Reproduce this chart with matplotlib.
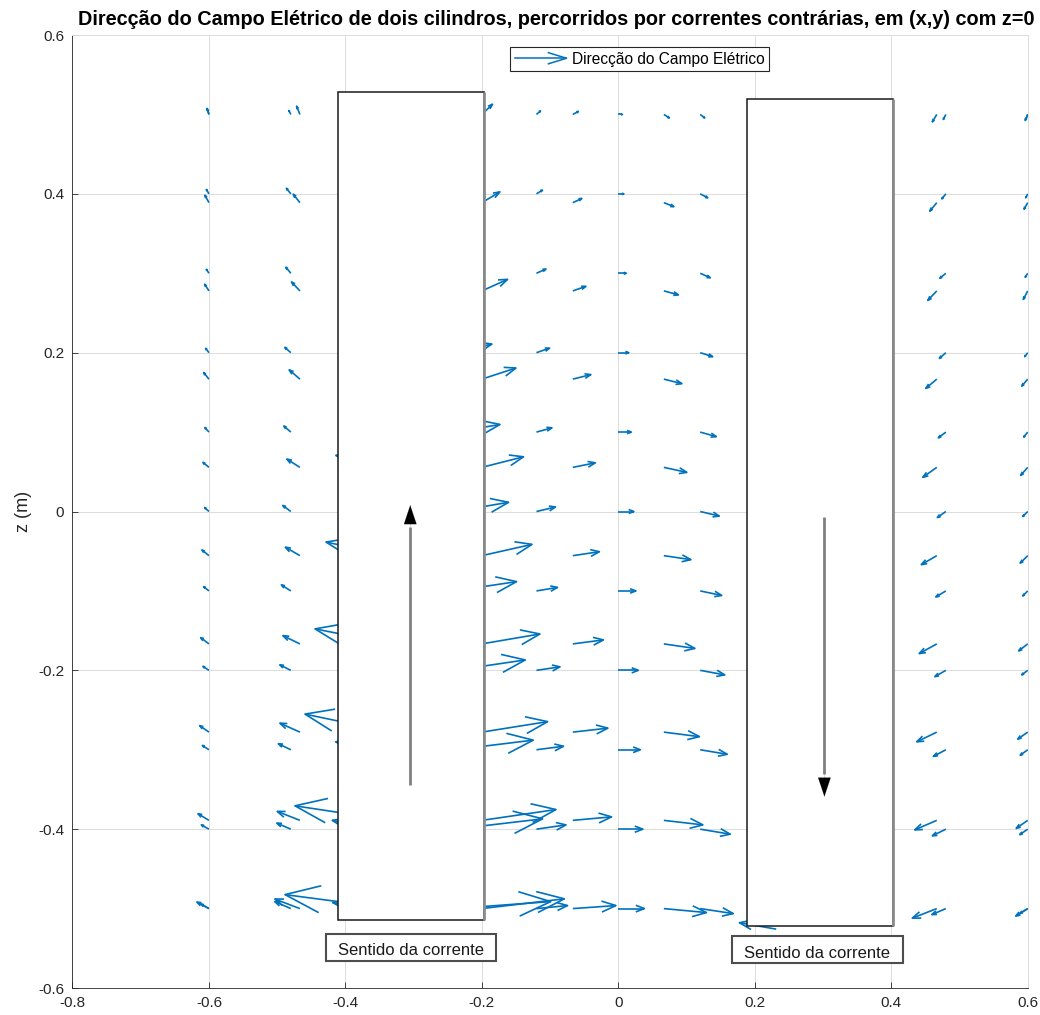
import numpy as np
import matplotlib
matplotlib.use("Agg")
import matplotlib.pyplot as plt
from matplotlib.collections import LineCollection
from matplotlib.patches import Rectangle
from matplotlib.legend_handler import HandlerBase
from matplotlib.lines import Line2D

nan = np.nan

# ---- grid 1 (11 x 11, only visible columns kept) ----
X1 = [-0.6, -0.48, -0.36, -0.24, -0.12, 0.0, 0.12, 0.48, 0.6]
Z1 = [0.5, 0.4, 0.3, 0.2, 0.1, 0.0, -0.1, -0.2, -0.3, -0.4, -0.5]
U1 = [
    [-0.0023, -0.0029, nan, nan, 0.0059, 0.0059, 0.0066, -0.0037, -0.0029],
    [-0.0038, -0.0065, nan, nan, 0.0088, 0.0081, 0.0110, -0.0059, -0.0029],
    [-0.0038, -0.0073, nan, nan, 0.0139, 0.0117, 0.0147, -0.0088, -0.0037],
    [-0.0048, -0.0088, nan, 0.0547, 0.0191, 0.0154, 0.0183, -0.0095, -0.0044],
    [-0.0059, -0.0103, nan, 0.0665, 0.0227, 0.0191, 0.0235, -0.0110, -0.0059],
    [-0.0063, -0.0117, nan, 0.0791, 0.0279, 0.0227, 0.0279, -0.0125, -0.0073],
    [-0.0078, -0.0139, nan, 0.0908, 0.0308, 0.0257, 0.0315, -0.0147, -0.0073],
    [-0.0088, -0.0161, nan, 0.1036, 0.0345, 0.0293, 0.0360, -0.0161, -0.0088],
    [-0.0097, -0.0183, -0.0543, 0.1153, 0.0396, 0.0323, 0.0396, -0.0183, -0.0110],
    [-0.0112, -0.0205, -0.0593, 0.1290, 0.0433, 0.0359, 0.0440, -0.0198, -0.0117],
    [-0.0117, -0.0235, -0.0587, 0.1409, 0.0455, 0.0382, 0.0484, -0.0205, -0.0117],
]
W1 = [
    [0.0063, 0.0050, nan, nan, 0.0044, 0.0, -0.0044, -0.0063, -0.0063],
    [0.0055, 0.0070, nan, nan, 0.0047, 0.0, -0.0050, -0.0063, -0.0050],
    [0.0050, 0.0076, nan, nan, 0.0053, 0.0, -0.0057, -0.0063, -0.0050],
    [0.0055, 0.0067, nan, 0.0108, 0.0057, 0.0, -0.0050, -0.0072, -0.0050],
    [0.0058, 0.0076, nan, 0.0096, 0.0054, 0.0, -0.0057, -0.0072, -0.0063],
    [0.0050, 0.0076, nan, 0.0116, 0.0057, 0.0, -0.0057, -0.0076, -0.0063],
    [0.0054, 0.0076, nan, 0.0117, 0.0044, 0.0, -0.0057, -0.0076, -0.0063],
    [0.0050, 0.0069, nan, 0.0131, 0.0044, 0.0, -0.0057, -0.0079, -0.0057],
    [0.0054, 0.0076, 0.0101, 0.0121, 0.0044, 0.0, -0.0057, -0.0084, -0.0069],
    [0.0054, 0.0076, 0.0111, 0.0130, 0.0054, 0.0, -0.0063, -0.0084, -0.0069],
    [0.0057, 0.0088, 0.0076, 0.0088, 0.0038, 0.0, -0.0063, -0.0076, -0.0063],
]

# ---- grid 2 (10 x 10, only visible columns kept) ----
X2 = [-0.6, -0.4667, -0.3333, -0.2, -0.0667, 0.0667, 0.4667, 0.6]
Z2 = [0.5, 0.3889, 0.2778, 0.1667, 0.0556, -0.0556, -0.1667, -0.2778, -0.3889, -0.5]
U2 = [
    [-0.0029, -0.0048, nan, 0.0156, 0.0081, 0.0081, -0.0065, -0.0037],
    [-0.0059, -0.0098, nan, 0.0264, 0.0132, 0.0147, -0.0103, -0.0054],
    [-0.0063, -0.0123, nan, 0.0376, 0.0191, 0.0213, -0.0132, -0.0065],
    [-0.0078, -0.0157, nan, 0.0499, 0.0264, 0.0264, -0.0161, -0.0088],
    [-0.0088, -0.0191, -0.0807, 0.0610, 0.0330, 0.0337, -0.0205, -0.0103],
    [-0.0103, -0.0213, -0.0951, 0.0734, 0.0389, 0.0396, -0.0227, -0.0110],
    [-0.0122, -0.0249, -0.1112, 0.0851, 0.0448, 0.0455, -0.0257, -0.0132],
    [-0.0136, -0.0293, -0.1259, 0.0963, 0.0514, 0.0521, -0.0293, -0.0147],
    [-0.0161, -0.0332, -0.1406, 0.1086, 0.0568, 0.0572, -0.0323, -0.0169],
    [-0.0176, -0.0367, -0.1552, 0.1208, 0.0631, 0.0624, -0.0359, -0.0176],
]
W2 = [
    [0.0076, 0.0104, nan, 0.0129, 0.0038, -0.0044, -0.0094, -0.0076],
    [0.0094, 0.0107, nan, 0.0136, 0.0053, -0.0050, -0.0107, -0.0082],
    [0.0084, 0.0113, nan, 0.0145, 0.0057, -0.0050, -0.0120, -0.0107],
    [0.0083, 0.0117, nan, 0.0140, 0.0057, -0.0057, -0.0117, -0.0088],
    [0.0063, 0.0104, 0.0151, 0.0133, 0.0057, -0.0063, -0.0126, -0.0101],
    [0.0072, 0.0107, 0.0171, 0.0142, 0.0050, -0.0050, -0.0113, -0.0094],
    [0.0079, 0.0104, 0.0189, 0.0125, 0.0050, -0.0057, -0.0122, -0.0088],
    [0.0082, 0.0113, 0.0227, 0.0132, 0.0050, -0.0057, -0.0122, -0.0088],
    [0.0084, 0.0113, 0.0183, 0.0136, 0.0044, -0.0057, -0.0120, -0.0101],
    [0.0082, 0.0120, 0.0176, 0.0123, 0.0038, -0.0050, -0.0120, -0.0094],
]

# single arrow peeking out under the right cylinder
X3 = [0.2314]
Z3 = [-0.5259]
U3 = [[-0.0539]]
W3 = [[0.0081]]

# cylinders (x range, z range) and current direction arrows
cyl_x = [(-0.411, -0.197), (0.189, 0.402)]
cyl_z = [(-0.515, 0.528), (-0.522, 0.519)]
cur_x = [-0.305, 0.302]
cur_z = [(-0.345, 0.008), (-0.007, -0.359)]
label_xy = [(-0.304, -0.553), (0.2905, -0.557)]
label_box_x = [(-0.4285, -0.179), (0.1673, 0.4167)]
label_box_z = [(-0.5658, -0.5318), (-0.5683, -0.5343)]

title = ("Direcção do Campo Elétrico de dois cilindros, percorridos por "
         "correntes contrárias, em (x,y) com z=0")
legend_label = "Direcção do Campo Elétrico"

blue = "#0072BD"
gridc = "#dcdcdc"
plt.rcParams["font.family"] = ["Liberation Sans", "DejaVu Sans"]


def quiver_segments(xs, zs, U, W, alpha=0.33, beta=0.33):
    shafts, heads = [], []
    for i, z in enumerate(zs):
        for j, x in enumerate(xs):
            u, w = U[i][j], W[i][j]
            if np.isnan(u):
                continue
            tx, tz = x + u, z + w
            shafts.append([(x, z), (tx, tz)])
            h1 = (tx - alpha * (u + beta * w), tz - alpha * (w - beta * u))
            h2 = (tx - alpha * (u - beta * w), tz - alpha * (w + beta * u))
            heads.append([h1, (tx, tz), h2])
    return shafts, heads


fig = plt.figure(figsize=(10.4, 10.15), dpi=100)
ax = fig.add_axes([0.0697, 0.0266, 0.9185, 0.9389])

for xs, zs, U, W in [(X1, Z1, U1, W1), (X2, Z2, U2, W2), (X3, Z3, U3, W3)]:
    shafts, heads = quiver_segments(xs, zs, U, W)
    ax.add_collection(LineCollection(shafts, colors=blue, linewidths=1.2, zorder=2))
    ax.add_collection(LineCollection(heads, colors=blue, linewidths=1.2, zorder=2))

# cylinders drawn over the field
for (x0, x1), (z0, z1) in zip(cyl_x, cyl_z):
    ax.add_patch(Rectangle((x0, z0), x1 - x0, z1 - z0, facecolor="white",
                           edgecolor="#1a1a1a", linewidth=1.1, zorder=3))
    ax.plot([x1, x1], [z0, z1], color="#8c8c8c", linewidth=2.0, zorder=3.1,
            solid_capstyle="butt")

for x, (z0, z1) in zip(cur_x, cur_z):
    dz = 0.028 if z1 > z0 else -0.028
    ax.plot([x, x], [z0, z1 - dz], color="#808080", lw=2.0, zorder=4,
            solid_capstyle="butt")
    ax.annotate("", xy=(x, z1), xytext=(x, z1 - dz), zorder=4.1,
                arrowprops=dict(arrowstyle="-|>,head_length=0.9,head_width=0.3",
                                color="black", lw=0.1, shrinkA=0, shrinkB=0,
                                mutation_scale=15))

for (tx, tz), (bx0, bx1), (bz0, bz1) in zip(label_xy, label_box_x, label_box_z):
    ax.add_patch(Rectangle((bx0, bz0), bx1 - bx0, bz1 - bz0, facecolor="white",
                           edgecolor="#4d4d4d", linewidth=1.5, zorder=4))
    ax.text(tx, tz, "Sentido da corrente", ha="center", va="center",
            fontsize=12, color="#1a1a1a", zorder=5)


class ArrowHandler(HandlerBase):
    def create_artists(self, legend, orig_handle, xdescent, ydescent,
                       width, height, fontsize, trans):
        y = height / 2 - ydescent
        x0, x1 = -xdescent, width - xdescent
        shaft = Line2D([x0, x1], [y, y], color=blue, lw=1.1, transform=trans)
        head = Line2D([x1 - 13, x1, x1 - 13], [y + 4, y, y - 4],
                      color=blue, lw=1.1, transform=trans)
        return [shaft, head]


proxy = Line2D([], [], color=blue)
leg = ax.legend([proxy], [legend_label], loc="upper center",
                bbox_to_anchor=(0.594, 0.9874), borderaxespad=0,
                handler_map={Line2D: ArrowHandler()},
                handlelength=3.3, handletextpad=0.35, fontsize=11.2, fancybox=False,
                framealpha=1, edgecolor="#262626", borderpad=0.3)
leg.get_frame().set_linewidth(0.8)
leg.set_zorder(6)

ax.set_xlim(-0.8, 0.6)
ax.set_ylim(-0.6, 0.6)
ax.set_xticks(np.arange(-0.8, 0.61, 0.2))
ax.set_yticks(np.arange(-0.6, 0.61, 0.2))
ax.set_xticklabels(["-0.8", "-0.6", "-0.4", "-0.2", "0", "0.2", "0.4", "0.6"])
ax.set_yticklabels(["-0.6", "-0.4", "-0.2", "0", "0.2", "0.4", "0.6"])
ax.tick_params(direction="in", length=4, width=0.6, labelsize=11,
               colors="#262626", pad=6)
ax.tick_params(top=False, right=False)
ax.grid(True, color=gridc, linewidth=0.7, zorder=0)
ax.set_axisbelow(True)
for name, s in ax.spines.items():
    if name in ("top", "right"):
        s.set_color(gridc)
        s.set_linewidth(0.7)
    else:
        s.set_color("#262626")
        s.set_linewidth(0.6)
ax.set_ylabel("z (m)", fontsize=13, color="#262626", labelpad=4)
ax.set_title(title, fontsize=14.3, fontweight="bold", color="black", pad=7,
             x=0.5065)

fig.savefig("out.png", dpi=100, facecolor="white")
